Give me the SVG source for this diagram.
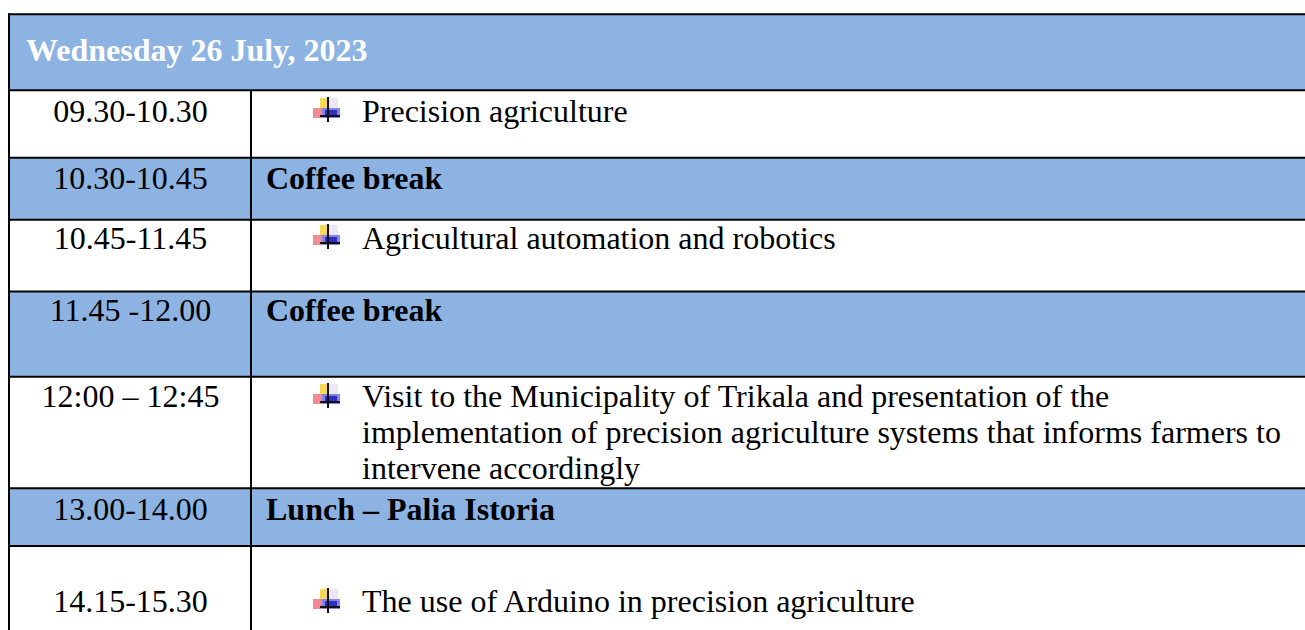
<svg xmlns="http://www.w3.org/2000/svg" width="1305" height="630" viewBox="0 0 1305 630">
<style>
.t{font-family:"Liberation Serif","Times New Roman",serif;font-size:32px;fill:#000}
.c{text-anchor:middle}
.b{font-weight:bold}
.h{font-family:"Liberation Serif","Times New Roman",serif;font-size:32px;font-weight:bold;fill:#fff}
.blue{fill:#8DB3E2}
.ln{stroke:#000;stroke-width:2;fill:none}
</style>
<defs>
<filter id="soft" x="-20%" y="-20%" width="140%" height="140%"><feGaussianBlur stdDeviation="0.7"/></filter>
<g id="bul">
<g filter="url(#soft)">
<rect x="7" y="1" width="8" height="10" fill="#F7D23A" opacity="0.85"/>
<rect x="15" y="1" width="10" height="10" fill="#EDE3F2" opacity="0.9"/>
<rect x="0" y="11" width="9" height="10" fill="#EE6E78" opacity="0.8"/>
<rect x="9" y="11" width="18" height="10" fill="#5A5AE0" opacity="0.75"/>
<rect x="12" y="13" width="12" height="6" fill="#1A1AB8" opacity="0.8"/>
</g>
<rect x="14" y="0" width="2" height="25" fill="#111"/>
<rect x="7" y="18" width="20" height="2" fill="#111"/>
</g>
</defs>
<rect width="1305" height="630" fill="#fff"/>
<g id="fills">
<rect class="blue" x="9" y="14" width="1296" height="76"/>
<rect class="blue" x="9" y="158" width="1296" height="62"/>
<rect class="blue" x="9" y="291" width="1296" height="86"/>
<rect class="blue" x="9" y="488" width="1296" height="58"/>
</g>
<g id="grid">
<line class="ln" x1="8" y1="14.3" x2="1305" y2="14.3"/>
<line class="ln" x1="8" y1="90.3" x2="1305" y2="90.3"/>
<line class="ln" x1="8" y1="157.8" x2="1305" y2="157.8"/>
<line class="ln" x1="8" y1="219.8" x2="1305" y2="219.8"/>
<line class="ln" x1="8" y1="291.5" x2="1305" y2="291.5"/>
<line class="ln" x1="8" y1="376.7" x2="1305" y2="376.7"/>
<line class="ln" x1="8" y1="488.3" x2="1305" y2="488.3"/>
<line class="ln" x1="8" y1="546" x2="1305" y2="546"/>
<line class="ln" x1="9" y1="13.3" x2="9" y2="630"/>
<line class="ln" x1="251" y1="90" x2="251" y2="630"/>
</g>
<g id="header"><text class="h" x="26" y="61">Wednesday 26 July, 2023</text></g>
<g id="row1">
<text class="t c" x="130.5" y="122">09.30-10.30</text>
<use href="#bul" x="313" y="97"/>
<text class="t" x="362" y="122">Precision agriculture</text>
</g>
<g id="row2">
<text class="t c" x="130.5" y="189">10.30-10.45</text>
<text class="t b" x="266" y="189">Coffee break</text>
</g>
<g id="row3">
<text class="t c" x="130.5" y="249">10.45-11.45</text>
<use href="#bul" x="313" y="224"/>
<text class="t" x="362" y="249">Agricultural automation and robotics</text>
</g>
<g id="row4">
<text class="t c" x="130.5" y="321">11.45 -12.00</text>
<text class="t b" x="266" y="321">Coffee break</text>
</g>
<g id="row5">
<text class="t c" x="130.5" y="407">12:00 – 12:45</text>
<use href="#bul" x="313" y="383"/>
<text class="t" x="362" y="407"><tspan x="362" y="407">Visit to the Municipality of Trikala and presentation of the</tspan><tspan x="362" y="443">implementation of precision agriculture systems that informs farmers to</tspan><tspan x="362" y="479">intervene accordingly</tspan></text>
</g>
<g id="row6">
<text class="t c" x="130.5" y="520">13.00-14.00</text>
<text class="t b" x="266" y="520">Lunch – Palia Istoria</text>
</g>
<g id="row7">
<text class="t c" x="130.5" y="612">14.15-15.30</text>
<use href="#bul" x="313" y="588"/>
<text class="t" x="362" y="612">The use of Arduino in precision agriculture</text>
</g>
</svg>
